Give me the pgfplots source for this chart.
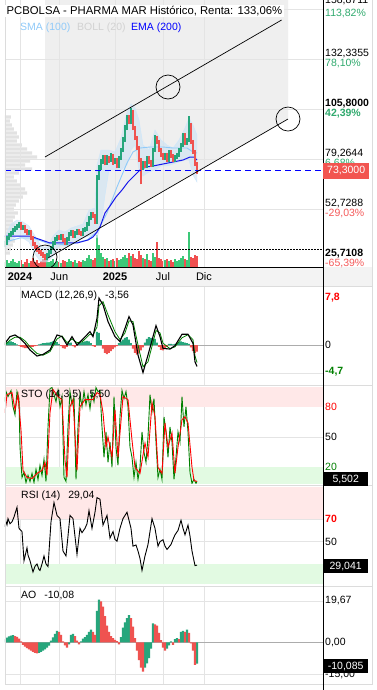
\documentclass[border=0pt]{standalone}
\usepackage{pgfplots}
\pgfplotsset{compat=1.18}
\usepackage{fontspec}
\setmainfont{Liberation Sans}
\definecolor{cgreen}{RGB}{38,166,124}
\definecolor{cred}{RGB}{239,83,80}
\definecolor{vgreen}{RGB}{60,200,120}
\definecolor{vred}{RGB}{240,80,80}
\definecolor{gridc}{RGB}{228,228,228}
\definecolor{smac}{RGB}{144,202,249}
\definecolor{bollc}{RGB}{205,226,243}
\definecolor{emac}{RGB}{25,25,235}
\definecolor{chanfill}{RGB}{239,239,239}
\definecolor{profc}{RGB}{226,226,226}
\definecolor{pinkband}{RGB}{255,232,232}
\definecolor{greenband}{RGB}{226,250,226}
\definecolor{stogreen}{RGB}{0,128,0}
\definecolor{pctgreen}{RGB}{48,170,110}
\definecolor{pctred}{RGB}{245,90,90}
\definecolor{boxred}{RGB}{242,85,80}
\definecolor{panelline}{RGB}{220,220,220}
\definecolor{datebg}{RGB}{243,243,243}
\newcommand{\lab}{\fontsize{10.5pt}{12pt}\selectfont}
\pgfplotsset{panel/.style={scale only axis, width=318pt, xmin=-1.875, xmax=37.875,
  axis line style={draw=none}, tick style={draw=none},
  xtick={0,4.92,11.875,17.875,23}, xticklabels={}, yticklabels={},
  xmajorgrids, ymajorgrids, major grid style={gridc, line width=0.6pt}}}
\begin{document}
\begin{tikzpicture}
\useasboundingbox (0pt,0pt) rectangle (377pt,-690pt);
\fill[white] (0pt,0pt) rectangle (377pt,-690pt);
\fill[datebg] (5pt,-267pt) rectangle (372pt,-286.5pt);

% background: channel fill and volume profile
\begin{axis}[at={(5pt,0pt)}, anchor=north west, scale only axis, width=318pt, height=267pt,
  xmin=0, xmax=318, ymin=22.1, ymax=163.82, hide axis]
\addplot[fill=chanfill, draw=none] coordinates {(40,163.82) (283,163.82) (283,100.65) (40,25.95)} -- cycle;
\addplot[xbar, bar width=3.2pt, bar shift=0pt, fill=profc, draw=none] coordinates {
(6,101.72) (5,99.59) (7,97.47) (9,95.35) (12,93.22) (14,91.10) (12,88.98) (17,86.85) (22,84.73)
(27,82.61) (32,80.48) (25,78.36) (20,76.24) (27,74.11) (14,71.99) (9,69.87) (12,67.75) (16,65.62)
(20,63.50) (22,61.38) (18,59.25) (14,57.13) (11,55.01) (9,52.88) (13,50.76) (10,48.64) (8,46.51)
(10,44.39) (12,42.27) (9,40.14) (7,38.02) (10,35.90) (8,33.77) (6,31.65) (5,29.53)};
\end{axis}

% volume
\begin{axis}[at={(5pt,0pt)}, anchor=north west, scale only axis, width=318pt, height=267pt,
  xmin=-1.875, xmax=37.875, ymin=0, ymax=26.7, hide axis]
\addplot[ybar, bar width=1.6pt, bar shift=0pt, fill=vgreen, draw=none] coordinates {
(-1.875,.5) (-1.625,.7) (-1.375,.4) (-1.125,.6) (-0.875,.8) (-0.625,.5) (-0.375,.4) (-0.125,.6)
(0.375,.3) (1.125,.4) (3.375,.7) (3.625,.5) (3.875,.6) (4.125,.8) (4.375,.4) (4.625,.6) (5.125,.4)
(5.875,.5) (6.125,.8) (6.375,.6) (6.875,.7) (7.125,.4) (7.875,.7) (8.125,.6) (8.375,.9) (8.625,1.2)
(8.875,.8) (9.625,3.2) (9.875,2.2) (10.125,1.4) (10.375,1.0) (10.875,.9) (11.375,.7) (11.875,.6)
(12.375,.7) (12.625,.8) (12.875,1.0) (13.125,1.2) (13.375,.9) (13.875,1.1) (15.375,.9) (15.875,1.3)
(16.625,1.4) (16.875,1.0) (18.125,.7) (18.625,.6) (19.375,.8) (19.625,.6) (19.875,.7) (20.125,.9)
(20.375,1.1) (20.875,.7) (21.125,3.5)};
\addplot[ybar, bar width=1.6pt, bar shift=0pt, fill=vred, draw=none] coordinates {
(0.125,.7) (0.625,.5) (0.875,.8) (1.375,.6) (1.625,.9) (1.875,.5) (2.125,.7) (2.375,.4) (2.625,.6)
(2.875,.8) (3.125,.9) (4.875,.5) (5.375,.7) (5.625,.6) (6.625,.5) (7.375,.6) (7.625,.5) (9.125,.7)
(9.375,.9) (10.625,.8) (11.125,.6) (11.625,.8) (12.125,.9) (13.625,1.4) (14.125,1.3) (14.375,.9)
(14.625,.8) (14.875,1.6) (15.125,1.2) (15.625,.8) (16.125,.7) (16.375,.6) (17.125,2.5) (17.375,.9)
(17.625,.8) (17.875,.6) (18.375,.8) (18.875,.7) (19.125,.5) (20.625,.8) (21.375,1.0) (21.625,.9)
(21.875,1.2) (22.125,1.1)};
\end{axis}

% main price axis
\begin{axis}[panel, at={(5pt,0pt)}, anchor=north west, height=267pt, ymin=22.1, ymax=163.82,
  ytick={52.7288,79.2644,105.8,132.3355,158.8711},
  xticklabels={\textbf{2024},Jun,\textbf{2025},Jul,Dic},
  xticklabel style={anchor=center, yshift=-10pt, font=\fontsize{11pt}{13pt}\selectfont}]
\addplot[fill=bollc, fill opacity=0.6, draw=smac!45, line width=0.4pt] coordinates {
(-1.875,38.55) (-1.125,44.92) (-0.375,47.04) (0.375,45.98) (1.125,43.86) (1.875,38.55) (2.625,33.24)
(3.375,32.18) (4.125,38.55) (4.875,41.74) (5.625,40.67) (6.375,42.80) (7.125,43.86) (7.875,44.92)
(8.625,52.35) (9.375,53.41) (9.625,76.24) (10.125,84.20) (10.625,84.20) (11.125,84.20) (11.875,83.14)
(12.625,90.57) (13.375,104.37) (13.875,108.62) (14.375,106.49) (14.875,100.12) (15.375,86.85)
(16.125,84.20) (16.875,94.82) (17.625,89.51) (18.375,86.85) (19.125,85.26) (19.875,89.51)
(20.625,95.88) (21.125,101.19) (21.625,97.47) (22.125,92.16)
(22.125,67.21) (21.625,70.93) (21.125,78.89) (20.625,78.89) (19.875,77.83) (19.125,76.77)
(18.375,75.71) (17.625,75.71) (16.875,73.58) (16.125,72.52) (15.375,70.40) (14.875,73.58)
(14.375,86.85) (13.875,84.20) (13.375,76.24) (12.625,73.58) (11.875,73.58) (11.125,73.58)
(10.625,60.31) (10.125,44.39) (9.625,37.49) (9.375,39.61) (8.625,38.55) (7.875,37.49) (7.125,36.43)
(6.375,35.37) (5.625,33.24) (4.875,33.24) (4.125,27.94) (3.375,24.75) (2.625,24.75) (1.875,29.00)
(1.125,35.37) (0.375,37.49) (-0.375,38.55) (-1.125,36.43) (-1.875,32.18)} -- cycle;
\addplot[smac, line width=0.9pt] coordinates {
(-1.875,35.37) (0,37.49) (1.625,37.49) (3.375,34.84) (5.875,33.77) (8.375,36.43) (9.625,40.67)
(10.875,50.76) (12.125,64.56) (13.375,77.30) (14.125,83.14) (15,85.26) (16.25,85.79) (17.875,85.79)
(19.125,85.26) (20.875,85.26) (21.625,83.14) (22.125,82.61)};
\addplot[emac, line width=1pt] coordinates {
(-1.875,38.55) (1.25,38.55) (3.75,34.84) (7.125,34.84) (8.5,36.43) (9.125,38.02) (9.625,40.67)
(10,43.33) (10.625,50.76) (11.25,54.48) (12,59.25) (12.75,62.97) (13.5,67.21) (14.25,70.40)
(15,73.58) (15.75,75.18) (16.625,75.71) (17.875,76.77) (19.125,77.83) (20.375,78.89) (21.25,80.48)
(21.75,80.48) (22.125,78.89)};
\addplot[cgreen, line width=1.2pt, unbounded coords=jump] table[row sep=\\] {
x y\\
-1.875 32.5\\ -1.875 35.8\\ -1.875 nan\\ -1.625 33.8\\ -1.625 38.5\\ -1.625 nan\\
-1.375 36.5\\ -1.375 40.1\\ -1.375 nan\\ -1.125 38.1\\ -1.125 41.1\\ -1.125 nan\\
-0.875 39.1\\ -0.875 42.7\\ -0.875 nan\\ -0.625 40.7\\ -0.625 43.8\\ -0.625 nan\\
-0.375 41.8\\ -0.375 44.9\\ -0.375 nan\\ -0.125 42.9\\ -0.125 45.9\\ -0.125 nan\\
0.375 41.8\\ 0.375 44.3\\ 0.375 nan\\ 1.125 39.1\\ 1.125 41.7\\ 1.125 nan\\
3.375 25.9\\ 3.375 29.5\\ 3.375 nan\\ 3.625 27.5\\ 3.625 31.0\\ 3.625 nan\\
3.875 29.0\\ 3.875 33.2\\ 3.875 nan\\ 4.125 31.2\\ 4.125 35.8\\ 4.125 nan\\
4.375 33.8\\ 4.375 38.0\\ 4.375 nan\\ 4.625 36.0\\ 4.625 39.0\\ 4.625 nan\\
5.125 36.5\\ 5.125 39.5\\ 5.125 nan\\ 5.875 33.8\\ 5.875 38.0\\ 5.875 nan\\
6.125 36.0\\ 6.125 40.6\\ 6.125 nan\\ 6.375 38.6\\ 6.375 41.7\\ 6.375 nan\\
6.875 37.5\\ 6.875 41.1\\ 6.875 nan\\ 7.125 39.1\\ 7.125 42.2\\ 7.125 nan\\
7.875 38.6\\ 7.875 42.7\\ 7.875 nan\\ 8.125 40.7\\ 8.125 43.3\\ 8.125 nan\\
8.375 41.3\\ 8.375 45.9\\ 8.375 nan\\ 8.625 43.9\\ 8.625 49.1\\ 8.625 nan\\
8.875 47.1\\ 8.875 51.2\\ 8.875 nan\\ 9.625 45.0\\ 9.625 71.0\\ 9.625 nan\\
9.875 68.3\\ 9.875 76.5\\ 9.875 nan\\ 10.125 73.6\\ 10.125 79.5\\ 10.125 nan\\
10.375 76.8\\ 10.375 81.5\\ 10.375 nan\\ 10.875 76.3\\ 10.875 81.5\\ 10.875 nan\\
11.375 77.9\\ 11.375 82.5\\ 11.375 nan\\ 11.875 76.8\\ 11.875 80.0\\ 11.875 nan\\
12.375 74.7\\ 12.375 81.0\\ 12.375 nan\\ 12.625 78.9\\ 12.625 85.5\\ 12.625 nan\\
12.875 83.2\\ 12.875 91.0\\ 12.875 nan\\ 13.125 88.5\\ 13.125 97.5\\ 13.125 nan\\
13.375 94.8\\ 13.375 103.0\\ 13.375 nan\\ 13.875 98.0\\ 13.875 106.5\\ 13.875 nan\\
15.375 73.6\\ 15.375 78.3\\ 15.375 nan\\ 15.875 74.7\\ 15.875 81.0\\ 15.875 nan\\
16.625 75.2\\ 16.625 85.2\\ 16.625 nan\\ 16.875 83.2\\ 16.875 92.0\\ 16.875 nan\\
18.125 78.9\\ 18.125 82.5\\ 18.125 nan\\ 18.625 77.9\\ 18.625 84.1\\ 18.625 nan\\
19.375 77.9\\ 19.375 81.5\\ 19.375 nan\\ 19.625 79.5\\ 19.625 82.5\\ 19.625 nan\\
19.875 80.5\\ 19.875 85.2\\ 19.875 nan\\ 20.125 83.2\\ 20.125 87.9\\ 20.125 nan\\
20.375 85.8\\ 20.375 93.2\\ 20.375 nan\\ 20.875 86.9\\ 20.875 90.5\\ 20.875 nan\\
21.125 88.5\\ 21.125 102.0\\ 21.125 nan\\
};
\addplot[cred, line width=1.2pt, unbounded coords=jump] table[row sep=\\] {
x y\\
0.125 41.8\\ 0.125 45.9\\ 0.125 nan\\ 0.625 40.2\\ 0.625 44.3\\ 0.625 nan\\
0.875 39.1\\ 0.875 42.2\\ 0.875 nan\\ 1.375 36.5\\ 1.375 41.7\\ 1.375 nan\\
1.625 33.3\\ 1.625 38.5\\ 1.625 nan\\ 1.875 31.7\\ 1.875 35.3\\ 1.875 nan\\
2.125 30.1\\ 2.125 33.7\\ 2.125 nan\\ 2.375 29.0\\ 2.375 32.1\\ 2.375 nan\\
2.625 28.0\\ 2.625 31.0\\ 2.625 nan\\ 2.875 26.9\\ 2.875 30.0\\ 2.875 nan\\
3.125 25.7\\ 3.125 28.9\\ 3.125 nan\\ 4.875 36.5\\ 4.875 39.0\\ 4.875 nan\\
5.375 35.4\\ 5.375 39.5\\ 5.375 nan\\ 5.625 33.8\\ 5.625 37.4\\ 5.625 nan\\
6.625 37.5\\ 6.625 41.7\\ 6.625 nan\\ 7.375 39.1\\ 7.375 42.2\\ 7.375 nan\\
7.625 38.6\\ 7.625 41.1\\ 7.625 nan\\ 9.125 48.2\\ 9.125 51.2\\ 9.125 nan\\
9.375 45.0\\ 9.375 50.2\\ 9.375 nan\\ 10.625 76.0\\ 10.625 81.5\\ 10.625 nan\\
11.125 77.5\\ 11.125 81.0\\ 11.125 nan\\ 11.625 76.5\\ 11.625 82.0\\ 11.625 nan\\
12.125 74.5\\ 12.125 80.0\\ 12.125 nan\\ 13.625 98.0\\ 13.625 103.0\\ 13.625 nan\\
14.125 94.8\\ 14.125 105.5\\ 14.125 nan\\ 14.375 89.5\\ 14.375 97.0\\ 14.375 nan\\
14.625 84.2\\ 14.625 91.5\\ 14.625 nan\\ 14.875 77.8\\ 14.875 86.3\\ 14.875 nan\\
15.125 66.0\\ 15.125 79.9\\ 15.125 nan\\ 15.625 74.7\\ 15.625 78.3\\ 15.625 nan\\
16.125 76.8\\ 16.125 81.0\\ 16.125 nan\\ 16.375 75.2\\ 16.375 78.8\\ 16.375 nan\\
17.125 87.4\\ 17.125 91.6\\ 17.125 nan\\ 17.375 83.2\\ 17.375 89.4\\ 17.375 nan\\
17.625 80.5\\ 17.625 85.2\\ 17.625 nan\\ 17.875 78.9\\ 17.875 82.5\\ 17.875 nan\\
18.375 77.9\\ 18.375 82.5\\ 18.375 nan\\ 18.875 80.0\\ 18.875 84.1\\ 18.875 nan\\
19.125 77.9\\ 19.125 82.0\\ 19.125 nan\\ 20.625 86.9\\ 20.625 93.2\\ 20.625 nan\\
21.375 87.4\\ 21.375 98.5\\ 21.375 nan\\ 21.625 82.1\\ 21.625 89.4\\ 21.625 nan\\
21.875 75.8\\ 21.875 84.1\\ 21.875 nan\\ 22.125 71.5\\ 22.125 77.8\\ 22.125 nan\\
};
\addplot[blue, dash pattern=on 6pt off 4pt, line width=0.8pt] coordinates {(-1.875,73.3) (37.875,73.3)};
\addplot[black, dash pattern=on 1.5pt off 1.5pt, line width=0.7pt] coordinates {(-1.875,31.65) (37.875,31.65)};
\draw[black, line width=0.7pt] (axis cs:3.125,80.48) -- (axis cs:32.7,153.2);
\draw[black, line width=0.7pt] (axis cs:3.5,26.87) -- (axis cs:33.5,100.65);
\draw[black, line width=0.7pt] (axis cs:18.5,117.64) circle[radius=12pt];
\draw[black, line width=0.7pt] (axis cs:33.5,100.65) circle[radius=12pt];
\draw[black, line width=0.7pt] (axis cs:3.125,27.4) circle[radius=12pt];
\end{axis}

% MACD
\begin{axis}[panel, at={(5pt,-287pt)}, anchor=north west, height=98pt, ymin=-6.63, ymax=9.62,
  ytick={-4.7}, extra y ticks={0}, extra y tick labels={},
  extra y tick style={major grid style={gray!65, line width=0.8pt}}]
\addplot[ybar, bar width=2pt, bar shift=0pt, fill=cgreen, draw=none] coordinates {
(-1.875,0.3) (-1.625,0.5) (-1.375,0.6) (-1.125,0.6) (-0.875,0.5) (-0.625,0.3) (-0.375,0.1)
(2.375,0.1) (2.625,0.2) (2.875,0.3) (3.125,0.3) (3.375,0.4) (3.625,0.4) (3.875,0.5) (4.125,0.6)
(4.375,0.7) (4.625,0.5) (4.875,0.2) (6.125,0.3) (6.375,0.4) (7.375,0.3) (7.625,0.4) (7.875,0.5)
(8.125,0.6) (8.375,0.7) (8.625,0.6) (8.875,0.3) (9.625,2.2) (9.875,2.0) (10.125,0.8) (12.375,0.3)
(12.625,0.6) (12.875,0.9) (13.125,1.2) (13.375,1.3) (13.625,0.9) (13.875,0.3) (15.625,0.4)
(15.875,1.0) (16.125,1.3) (16.375,1.2) (16.625,1.1) (16.875,1.0) (17.125,0.4) (18.625,0.2)
(18.875,0.2) (19.125,0.1) (19.375,0.2) (19.625,0.3) (19.875,0.5) (20.125,0.6) (20.375,0.5)
(20.625,0.4) (20.875,0.3) (21.125,0.2)};
\addplot[ybar, bar width=2pt, bar shift=0pt, fill=cred, draw=none] coordinates {
(-0.125,-0.1) (0.125,-0.3) (0.375,-0.4) (0.625,-0.5) (0.875,-0.5) (1.125,-0.4) (1.375,-0.3)
(1.625,-0.3) (1.875,-0.2) (2.125,-0.1) (5.125,-0.2) (5.375,-0.5) (5.625,-0.6) (5.875,-0.3)
(6.625,-0.2) (6.875,-0.4) (7.125,-0.1) (9.125,-0.2) (9.375,-0.3) (10.375,-0.6) (10.625,-1.3)
(10.875,-1.5) (11.125,-1.3) (11.375,-1.0) (11.625,-0.7) (11.875,-0.4) (12.125,-0.2) (14.125,-0.6)
(14.375,-1.3) (14.625,-1.6) (14.875,-1.4) (15.125,-0.9) (15.375,-0.4) (17.375,-0.3) (17.625,-0.8)
(17.875,-0.9) (18.125,-0.6) (18.375,-0.3) (21.375,-0.4) (21.625,-1.0) (21.875,-1.3) (22.125,-1.1)};
\addplot[stogreen, line width=0.8pt] coordinates {
(-1.875,0.0) (-1.25,0.8) (-0.625,1.3) (0,1.3) (0.625,0.7) (1.25,-0.3) (2.125,-1.4) (2.875,-1.7)
(3.75,-1.1) (4.625,1.0) (5.25,1.5) (5.875,0.4) (6.5,1.0) (7.125,0.4) (7.75,0.5) (8.75,1.8)
(9.125,1.6) (9.625,3.0) (9.875,6.5) (10.375,7.2) (11.0,5.0) (11.875,2.2) (12.5,0.9) (13.125,2.0)
(13.625,4.0) (14.125,3.9) (14.75,0.0) (15.375,-3.6) (16.0,-2.8) (17.0,2.4) (17.5,2.0) (17.875,0.3)
(18.75,-0.6) (19.375,-0.3) (20.25,1.2) (21.0,1.7) (21.625,0.9) (21.875,-1.8) (22.125,-2.9)};
\addplot[black, line width=1.1pt] coordinates {
(-1.875,0.28) (-1.25,1.39) (-0.625,1.67) (0,1.11) (0.625,0.28) (1.25,-0.83) (2.125,-1.83)
(2.875,-1.56) (3.75,-0.83) (4.625,1.67) (5.25,1.39) (5.875,0) (6.5,1.39) (7.125,0) (7.75,0.83)
(8.75,2.22) (9.125,1.39) (9.625,4.44) (9.875,7.78) (10.375,6.67) (11.0,3.89) (11.875,1.39)
(12.5,0.56) (13.125,2.78) (13.625,4.72) (14.125,3.33) (14.75,-1.67) (15.375,-4.56) (16.0,-1.67)
(17.0,3.22) (17.5,1.39) (17.875,-0.56) (18.75,-0.67) (19.375,-0.11) (20.25,1.78) (21.0,1.78)
(21.625,0.28) (21.875,-2.78) (22.125,-3.56)};
\end{axis}

% STO
\begin{axis}[panel, at={(5pt,-386.5pt)}, anchor=north west, height=97.5pt, ymin=3.5, ymax=100,
  ytick={20,50,80}]
\fill[pinkband] (axis cs:-1.875,80) rectangle (axis cs:37.875,100);
\fill[greenband] (axis cs:-1.875,3.5) rectangle (axis cs:37.875,20);
\addplot[stogreen, line width=0.9pt] coordinates {
(-1.875,85) (-1.75,95) (-1.5,90) (-1.125,96) (-0.875,80) (-0.625,72) (-0.375,95) (-0.125,88)
(0.0,40) (0.25,10) (0.5,15) (0.75,5) (1.0,12) (1.25,6) (1.5,14) (1.75,5) (2.0,18) (2.25,8)
(2.5,22) (2.75,12) (3.0,28) (3.25,6) (3.5,60) (3.75,98) (4.0,99) (4.25,92) (4.5,85) (4.75,96)
(5.0,80) (5.25,90) (5.5,10) (5.75,6) (6.0,60) (6.25,95) (6.5,82) (6.75,90) (7.0,8) (7.25,60)
(7.5,92) (7.75,80) (8.0,95) (8.25,82) (8.5,92) (8.75,78) (9.0,94) (9.25,85) (9.5,99) (9.75,95)
(10.0,96) (10.25,60) (10.5,30) (10.75,55) (11.0,25) (11.25,45) (11.5,20) (11.75,90) (12.0,40)
(12.25,22) (12.5,70) (12.75,96) (13.0,88) (13.25,95) (13.5,80) (13.75,40) (14.0,30) (14.25,10)
(14.5,25) (14.75,8) (15.0,20) (15.25,55) (15.5,35) (15.75,25) (16.0,50) (16.25,92) (16.5,75)
(16.75,88) (17.0,45) (17.25,10) (17.5,18) (17.75,8) (18.0,70) (18.25,55) (18.5,30) (18.75,60)
(19.0,45) (19.25,8) (19.5,30) (19.75,55) (20.0,45) (20.25,90) (20.5,60) (20.75,80) (21.0,55)
(21.25,15) (21.5,4) (21.75,8) (22.0,4) (22.125,6)};
\addplot[red, line width=0.9pt] coordinates {
(-1.875,74) (-1.625,92) (-1.0,94) (-0.625,77) (-0.25,92) (0.125,57) (0.375,17) (0.875,10)
(1.5,9) (2.125,14) (2.75,17) (3.125,25) (3.375,12) (3.75,74) (4.125,97) (4.75,90) (5.25,87)
(5.625,27) (5.875,10) (6.25,80) (6.625,87) (7.125,17) (7.5,80) (8.125,87) (8.5,87) (9.125,87)
(9.625,94) (10.0,92) (10.375,74) (10.75,40) (11.0,50) (11.5,30) (11.875,77) (12.25,30) (12.875,90)
(13.5,87) (14.0,47) (14.375,20) (15.0,14) (15.625,44) (16.0,30) (16.5,84) (16.875,70) (17.25,20)
(17.75,14) (18.125,64) (18.5,40) (19.0,54) (19.375,14) (19.75,40) (20.25,67) (20.625,70) (21.0,64)
(21.5,20) (21.75,7) (22.125,6)};
\end{axis}

% RSI
\begin{axis}[panel, at={(5pt,-487pt)}, anchor=north west, height=97.3pt, ymin=11.8, ymax=98.9,
  ytick={30,50,70}]
\fill[pinkband] (axis cs:-1.875,70) rectangle (axis cs:37.875,98.9);
\fill[greenband] (axis cs:-1.875,11.8) rectangle (axis cs:37.875,30);
\addplot[black, line width=0.9pt] coordinates {
(-1.875,63.3) (-1.75,68) (-1.625,65) (-1.5,70.6) (-1.25,66) (-1.0,67.7) (-0.75,72) (-0.625,75)
(-0.375,80.7) (-0.125,61.9) (0.25,59) (0.5,32.9) (0.875,44.5) (1.0,38) (1.25,32.9) (1.625,22.8)
(1.875,28) (2.125,30) (2.375,25) (2.5,24.2) (2.75,30) (3.0,37.2) (3.25,30) (3.5,27.7) (3.875,67.7)
(4.25,85) (4.625,73.5) (5.0,70.6) (5.375,41.6) (5.75,37.2) (6.0,55) (6.25,73.5) (6.625,70.6)
(7.125,38.7) (7.5,61.9) (7.75,58) (8.125,61.9) (8.375,66) (8.625,77.8) (9.0,61.9) (9.375,76.3)
(9.625,89.4) (10.0,88) (10.375,64.8) (10.875,73.5) (11.25,53.2) (11.625,59) (11.875,52)
(12.125,50.3) (12.5,62) (12.875,70.6) (13.375,76.3) (13.875,61.9) (14.125,45.9) (14.5,47)
(14.75,41.6) (15.0,35) (15.25,24.2) (15.625,37.2) (16.0,47.4) (16.5,70.6) (16.875,61.9)
(17.25,45.9) (17.5,50) (17.875,51.7) (18.125,46) (18.375,43) (18.875,47.4) (19.125,52)
(19.375,56.1) (19.75,60) (20.125,69.1) (20.375,62) (20.625,56.1) (21.0,64.8) (21.25,55)
(21.5,41.6) (21.875,28.5) (22.125,29.0)};
\end{axis}

% AO
\begin{axis}[panel, at={(5pt,-586.7pt)}, anchor=north west, height=97.6pt, ymin=-20, ymax=26.5,
  ytick={-15,19.67}, extra y ticks={0}, extra y tick labels={},
  extra y tick style={major grid style={gray!65, line width=0.8pt}}]
\addplot[ybar, bar width=2.1pt, bar shift=0pt, fill=cgreen, draw=none] coordinates {
(-1.875,1.5) (-1.625,2.2) (-1.375,2.8) (-1.125,3.2) (-0.875,3.4) (2.375,-5.0) (2.625,-4.6)
(2.875,-4.0) (3.125,-3.3) (3.375,-2.5) (3.625,-1.6) (3.875,0.8) (4.125,2.4) (4.375,4.0) (4.625,5.4)
(6.125,-1.0) (6.375,3.5) (6.625,4.0) (7.625,0.5) (7.875,1.8) (8.125,2.5) (8.375,3.5) (8.625,5.0)
(8.875,6.0) (9.625,15.0) (9.875,20.3) (12.625,2.5) (12.875,7.0) (13.125,9.5) (13.375,11.5)
(13.625,13.0) (15.625,-12.0) (15.875,-10.0) (16.125,-7.5) (16.375,-3.0) (16.625,9.0) (18.375,-3.0)
(18.625,-1.5) (18.875,0.5) (19.375,1.5) (19.625,2.0) (20.125,5.0) (20.375,5.5) (20.875,6.0)
(22.125,-10.1)};
\addplot[ybar, bar width=2.1pt, bar shift=0pt, fill=cred, draw=none] coordinates {
(-0.625,3.0) (-0.375,2.6) (-0.125,1.8) (0.125,0.5) (0.375,-1.2) (0.625,-2.0) (0.875,-2.8)
(1.125,-3.4) (1.375,-3.9) (1.625,-4.5) (1.875,-5.0) (2.125,-5.3) (4.875,5.0) (5.125,3.5)
(5.375,0.5) (5.625,-1.5) (5.875,-2.5) (6.875,3.0) (7.125,0.8) (7.375,-1.0) (9.125,5.0) (9.375,3.5)
(10.125,19.5) (10.375,17.0) (10.625,12.5) (10.875,8.0) (11.125,5.0) (11.375,3.0) (11.625,2.0)
(11.875,1.2) (12.125,0.6) (12.375,-1.0) (13.875,11.5) (14.125,7.5) (14.375,2.0) (14.625,-4.0)
(14.875,-8.5) (15.125,-12.0) (15.375,-14.0) (16.875,8.5) (17.125,8.0) (17.375,4.5) (17.625,1.0)
(17.875,-2.5) (18.125,-4.0) (19.125,-1.2) (19.875,1.5) (20.625,5.0) (21.125,4.5) (21.375,-0.5)
(21.625,-4.0) (21.875,-10.8)};
\end{axis}

% frame lines
\draw[panelline, line width=0.8pt] (5pt,0pt) -- (5pt,-684.5pt);
\draw[panelline, line width=0.8pt] (372pt,0pt) -- (372pt,-684.5pt);
\foreach \yy in {286.5,385.5,485.5,586.5,684.5} {\draw[panelline, line width=0.8pt] (5pt,-\yy pt) -- (372pt,-\yy pt);}
\draw[black, line width=0.8pt] (5pt,-267pt) -- (323pt,-267pt);
\draw[black, line width=1pt] (323pt,0pt) -- (323pt,-690pt);

% title and legend
\node[anchor=west, fill=white, inner sep=1.5pt, font=\fontsize{11.3pt}{13pt}\selectfont] at (5pt,-11pt) {PCBOLSA - PHARMA MAR Histórico, Renta: 133,06\%};
\node[anchor=west, inner sep=0pt, font=\lab, text=smac] at (20pt,-28pt) {SMA (100)};
\node[anchor=west, inner sep=0pt, font=\lab, text=gray!35] at (77pt,-28pt) {BOLL (20)};
\node[anchor=west, inner sep=0pt, font=\lab, text=blue] at (131pt,-28pt) {EMA (200)};

% price labels
\begin{scope}[every node/.style={anchor=west, inner sep=0pt, font=\lab}]
\node at (325pt,-1pt) {158,8711};
\node[text=pctgreen] at (325pt,-14pt) {113,82\%};
\node at (325pt,-54pt) {132,3355};
\node[text=pctgreen] at (325pt,-64pt) {78,10\%};
\node[font=\lab\bfseries] at (325pt,-104pt) {105,8000};
\node[text=pctgreen, font=\lab\bfseries] at (325pt,-114pt) {42,39\%};
\node at (325pt,-154pt) {79,2644};
\node[text=pctgreen] at (325pt,-164pt) {6,68\%};
\node at (325pt,-204pt) {52,7288};
\node[text=pctred] at (325pt,-214pt) {-29,03\%};
\node[font=\lab\bfseries] at (325pt,-254pt) {25,7108};
\node[text=pctred] at (325pt,-264pt) {-65,39\%};
\node[font=\lab\bfseries, text=red] at (325pt,-298pt) {7,8};
\node at (325pt,-345pt) {0};
\node[font=\lab\bfseries, text=stogreen] at (325pt,-372pt) {-4,7};
\node[text=red] at (325pt,-407pt) {80};
\node at (325pt,-437pt) {50};
\node[text=stogreen] at (325pt,-467pt) {20};
\node[font=\lab\bfseries, text=red] at (325pt,-519pt) {70};
\node at (325pt,-542pt) {50};
\node at (325pt,-600pt) {19,67};
\node at (325pt,-642pt) {0,00};
\node at (325pt,-674pt) {-15,00};
\end{scope}
\node[anchor=west, fill=boxred, text=white, inner sep=1.5pt, minimum width=46pt, minimum height=16pt, font=\lab] at (323pt,-170.5pt) {73,3000};
\node[anchor=west, fill=black, text=white, inner sep=1.5pt, minimum width=45pt, minimum height=14pt, font=\lab] at (323pt,-479pt) {5,502};
\node[anchor=west, fill=black, text=white, inner sep=1.5pt, minimum width=45pt, minimum height=14pt, font=\lab] at (323pt,-566pt) {29,041};
\node[anchor=west, fill=black, text=white, inner sep=1.5pt, minimum width=45pt, minimum height=14pt, font=\lab] at (323pt,-666pt) {-10,085};

% panel legends
\node[anchor=west, inner sep=0pt, font=\lab] at (21pt,-296pt) {MACD (12,26,9)\hspace{8pt}-3,56};
\node[anchor=west, inner sep=0pt, font=\lab] at (21pt,-395pt) {STO (14,3,5)\hspace{8pt}5,50};
\node[anchor=west, inner sep=0pt, font=\lab] at (21pt,-496pt) {RSI (14)\hspace{8pt}29,04};
\node[anchor=west, inner sep=0pt, font=\lab] at (21pt,-595pt) {AO\hspace{8pt}-10,08};
\end{tikzpicture}
\end{document}
